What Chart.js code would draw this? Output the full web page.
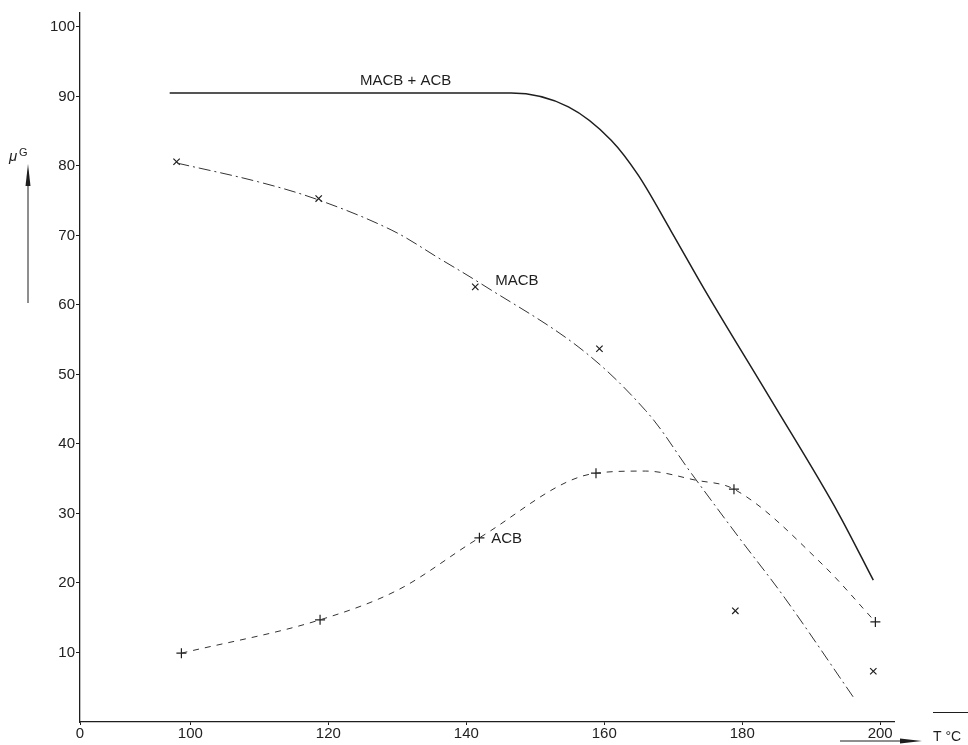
<!DOCTYPE html>
<html>
<head>
<meta charset="utf-8">
<script src="https://cdn.jsdelivr.net/npm/chart.js@4/dist/chart.umd.min.js"></script>
<style>
  html, body { margin: 0; padding: 0; background: #fff; }
  #graph { display: block; }
</style>
</head>
<body>
<canvas id="graph" width="968" height="745"></canvas>
<script>
// temperature (°C) / amount (µg)
const sumTemp = [97, 146.5, 154.8, 161, 164.9, 169.7, 174.6, 184.2, 193.9, 199];
const sumVal = [90.5, 90.5, 88.5, 83.7, 78.7, 70.6, 62.1, 46.3, 30.1, 20.4];

const macbTemp = [98.1, 109.9, 118.6, 129.1, 136.4, 141.9, 156.2, 166, 172.6, 179.4, 186.2, 196.3];
const macbVal = [80.4, 77.7, 75.1, 70.8, 66.5, 63.2, 54, 44.8, 35.8, 26.7, 17.8, 3.3];

const acbTemp = [98.7, 118.8, 130.1, 141.9, 158.8, 166, 173.2, 178.8, 191.7, 199.3];
const acbVal = [9.9, 14.7, 19, 26.5, 35.8, 36.1, 34.8, 33.5, 22.6, 14.4];

// measured points
const macbPtTemp = [98, 118.6, 141.3, 159.3, 179, 199];
const macbPtVal = [80.6, 75.3, 62.6, 53.7, 16, 7.3];
const acbPtTemp = [98.7, 118.8, 141.9, 158.8, 178.8, 199.3];
const acbPtVal = [9.9, 14.7, 26.5, 35.8, 33.5, 14.4];

const xTicks = [84, 100, 120, 140, 160, 180, 200];
const xTickText = ["0", "100", "120", "140", "160", "180", "200"];
const yTicks = [10, 20, 30, 40, 50, 60, 70, 80, 90, 100];

const curveLabels = [
    { text: "MACB + ACB", t: 131.2, v: 92.2, align: "center" },
    { text: "MACB", t: 144.2, v: 63.4, align: "left" },
    { text: "ACB", t: 143.6, v: 26.4, align: "left" }
];

const pairs = (xs, ys) => xs.map((x, i) => ({ x: x, y: ys[i] }));

const ink = "#1e1e1e";
const font = "Liberation Sans";

// extra text and arrows of the old drawing
const annotations = {
    id: "annotations",
    afterDraw(chart) {
        const c = chart.ctx;
        const xs = chart.scales.x, ys = chart.scales.y;
        c.save();
        c.fillStyle = ink;
        c.strokeStyle = ink;
        c.font = "15px '" + font + "'";
        c.textBaseline = "middle";
        curveLabels.forEach(l => {
            c.textAlign = l.align;
            c.fillText(l.text, xs.getPixelForValue(l.t), ys.getPixelForValue(l.v));
        });

        // µG with upward arrow
        c.textAlign = "left";
        c.font = "italic 15px '" + font + "'";
        c.fillText("\u03bc", 9, 157);
        c.font = "11px '" + font + "'";
        c.fillText("G", 19, 153);
        c.lineWidth = 1;
        c.beginPath();
        c.moveTo(28, 303);
        c.lineTo(28, 178);
        c.stroke();
        c.beginPath();
        c.moveTo(28, 164);
        c.lineTo(25.5, 186);
        c.lineTo(30.5, 186);
        c.closePath();
        c.fill();

        // T °C with arrow
        c.font = "14px '" + font + "'";
        c.fillText("T \u00b0C", 933, 737);
        c.beginPath();
        c.moveTo(840, 741);
        c.lineTo(905, 741);
        c.stroke();
        c.beginPath();
        c.moveTo(922, 741);
        c.lineTo(900, 738.5);
        c.lineTo(900, 743.5);
        c.closePath();
        c.fill();

        c.beginPath();
        c.moveTo(933, 712.5);
        c.lineTo(968, 712.5);
        c.stroke();
        c.restore();
    }
};

new Chart(document.getElementById("graph").getContext("2d"), {
    type: "scatter",
    data: {
        datasets: [
            {
                label: "MACB + ACB",
                data: pairs(sumTemp, sumVal),
                showLine: true,
                borderColor: ink,
                borderWidth: 1.5,
                pointRadius: 0,
                cubicInterpolationMode: "monotone"
            },
            {
                label: "MACB",
                data: pairs(macbTemp, macbVal),
                showLine: true,
                borderColor: "#333",
                borderWidth: 1,
                borderDash: [12, 4, 2, 4],
                pointRadius: 0,
                tension: 0.35
            },
            {
                label: "ACB",
                data: pairs(acbTemp, acbVal),
                showLine: true,
                borderColor: "#333",
                borderWidth: 1,
                borderDash: [6, 6],
                pointRadius: 0,
                cubicInterpolationMode: "monotone"
            },
            {
                label: "MACB points",
                data: pairs(macbPtTemp, macbPtVal),
                pointStyle: "crossRot",
                pointRadius: 4.5,
                borderColor: ink,
                borderWidth: 1.2
            },
            {
                label: "ACB points",
                data: pairs(acbPtTemp, acbPtVal),
                pointStyle: "cross",
                pointRadius: 5,
                borderColor: ink,
                borderWidth: 1.2
            }
        ]
    },
    options: {
        responsive: false,
        animation: false,
        layout: { padding: { top: 13, right: 74, left: 0, bottom: 0 } },
        plugins: {
            legend: { display: false },
            tooltip: { enabled: false }
        },
        scales: {
            x: {
                type: "linear",
                min: 84,
                max: 202,
                afterBuildTicks: s => { s.ticks = xTicks.map(v => ({ value: v })); },
                afterFit: s => { s.height = 23; },
                border: { color: ink, width: 1.3 },
                grid: { drawOnChartArea: false, drawTicks: true, tickLength: 3, color: ink },
                ticks: {
                    padding: 0,
                    autoSkip: false,
                    maxRotation: 0,
                    color: "#222",
                    font: { family: font, size: 15 },
                    callback: v => xTickText[xTicks.indexOf(v)] ?? ""
                }
            },
            y: {
                min: 0,
                max: 102,
                afterBuildTicks: s => { s.ticks = yTicks.map(v => ({ value: v })); },
                afterFit: s => { s.width = 80; },
                border: { color: ink, width: 1.3 },
                grid: { drawOnChartArea: false, drawTicks: true, tickLength: 4, color: ink },
                ticks: {
                    padding: 1,
                    autoSkip: false,
                    color: "#222",
                    font: { family: font, size: 15 }
                }
            }
        }
    },
    plugins: [annotations]
});
</script>
</body>
</html>
